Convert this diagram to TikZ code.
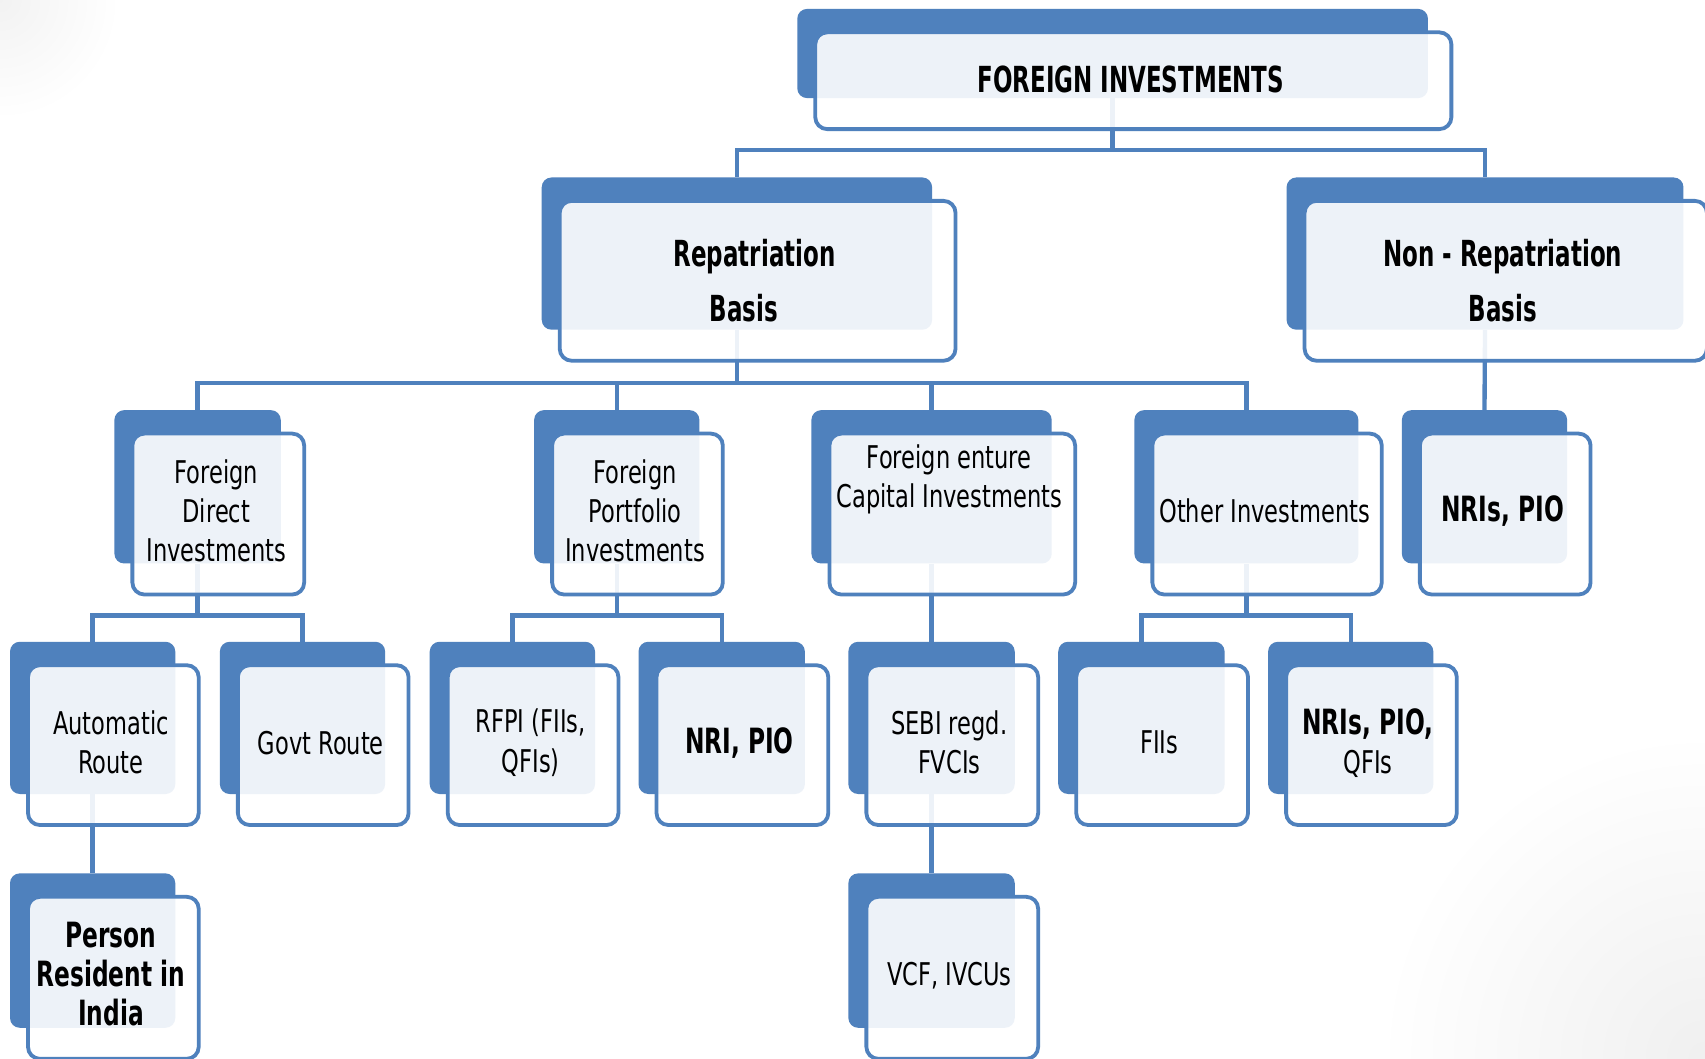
\documentclass[tikz,border=0pt]{standalone}
\usepackage{fontspec}
\newfontfamily\rf{DejaVu Sans}[FakeStretch=0.72]
\newfontfamily\bff{DejaVu Sans}[FakeStretch=0.64]
\newfontfamily\bfs{DejaVu Sans}[FakeStretch=0.67]
\usetikzlibrary{backgrounds,calc}
\definecolor{bl}{RGB}{79,129,189}
\tikzset{
  backbox/.style={draw=none, fill=bl, rounded corners=9pt, inner sep=0pt, anchor=north west},
  frontbox/.style={draw=bl, line width=3.5pt, fill=white, fill opacity=0.9, rounded corners=11pt, inner sep=0pt, anchor=north west},
  conn/.style={draw=bl, line width=4pt},
  rt/.style={align=center, inner sep=0pt, font=\rf\fontsize{28.8}{36}\selectfont},
  bt/.style={align=center, inner sep=0pt, font=\bfs\bfseries\fontsize{32}{36}\selectfont},
  bbig/.style={align=center, inner sep=0pt, font=\bff\bfseries\fontsize{33}{51}\selectfont},
}
% #1 name, #2 x1, #3 y1, #4 x2, #5 y2 of back box
\newcommand\pairbox[5]{%
  \node[backbox, minimum width={#4-#2}, minimum height={#5-#3}] (#1B) at (#2,#3) {};
  \node[frontbox, minimum width={#4-#2+5}, minimum height={#5-#3+7}] (#1) at (#2+15,#3+20) {};
}
\begin{document}
\begin{tikzpicture}[x=1pt,y=-1pt]
\useasboundingbox (0,0) rectangle (1568,973);
% boxes
\pairbox{top}{733}{8}{1313}{90}
\pairbox{rep}{498}{163}{857}{303}
\pairbox{nr}{1183}{163}{1548}{303}
\pairbox{fdi}{105}{377}{258}{518}
\pairbox{fpi}{491}{377}{643}{518}
\pairbox{fvc}{746}{377}{967}{518}
\pairbox{oth}{1043}{377}{1249}{518}
\pairbox{nrp}{1289}{377}{1441}{518}
\pairbox{auto}{9}{590}{161}{730}
\pairbox{gov}{202}{590}{354}{730}
\pairbox{rfpi}{395}{590}{547}{730}
\pairbox{nri}{587}{590}{740}{730}
\pairbox{sebi}{780}{590}{933}{730}
\pairbox{fiis}{973}{590}{1126}{730}
\pairbox{nrq}{1166}{590}{1318}{730}
\pairbox{per}{9}{803}{161}{945}
\pairbox{vcf}{780}{803}{933}{945}
% texts
\node[bbig] (topT) at (1040,73) {FOREIGN INVESTMENTS};
\node[bbig] (repT) at (694,258) {Repatriation\\Basis\hspace*{20pt}};
\node[bbig] (nrT) at (1382,258) {Non - Repatriation\\Basis};
\node[rt] (fdiT) at (199,470) {Foreign\\Direct\\Investments};
\node[rt] (fpiT) at (584,470) {Foreign\\Portfolio\\Investments};
\node[rt] (fvcT) at (873,441) {Foreign enture\\Capital Investments};
\node[rt] (othT) at (1163,470) {Other Investments};
\node[bt] (nrpT) at (1382,470) {NRIs, PIO};
\node[rt] (autoT) at (102,683) {Automatic\\Route};
\node[rt] (govT) at (295,683) {Govt Route};
\node[rt] (rfpiT) at (488,683) {RFPI (FIIs,\\QFIs)};
\node[bt] (nriT) at (680,683) {NRI, PIO};
\node[rt] (sebiT) at (873,683) {SEBI regd.\\FVCIs};
\node[rt] (fiisT) at (1066,683) {FIIs};
\node[rt] (nrqT) at (1258,683) {{\bfs\bfseries\fontsize{32}{36}\selectfont NRIs, PIO,}\\QFIs};
\node[bt] (perT) at (102,896) {Person\\Resident in\\India};
\node[rt] (vcfT) at (873,897) {VCF, IVCUs};
% connectors
\begin{scope}[on background layer]
\fill[white] (0,0) rectangle (1568,973);
\begin{scope}
\clip (0,0) rectangle (1568,973);
\shade[inner color=black!5, outer color=white] (0,0) circle (110);
\shade[inner color=black!6, outer color=white] (1568,973) circle (300);
\end{scope}
\draw[conn] (topB.south) -- (topB.south |- 0,138);
\draw[conn] (repB.north) |- (nrB.north |- 0,138) -- (nrB.north);
\draw[conn] (repB.south) -- (repB.south |- 0,352);
\draw[conn] (fdiB.north) |- (othB.north |- 0,352) -- (othB.north);
\draw[conn] (fpiB.north) -- (fpiB.north |- 0,352);
\draw[conn] (fvcB.north) -- (fvcB.north |- 0,352);
\draw[conn] (nrB.south) -- (nrpB.north);
\draw[conn] (fdiB.south) -- (fdiB.south |- 0,566);
\draw[conn] (autoB.north) |- (govB.north |- 0,566) -- (govB.north);
\draw[conn] (fpiB.south) -- (fpiB.south |- 0,566);
\draw[conn] (rfpiB.north) |- (nriB.north |- 0,566) -- (nriB.north);
\draw[conn] (fvcB.south) -- (sebiB.north);
\draw[conn] (othB.south) -- (othB.south |- 0,566);
\draw[conn] (fiisB.north) |- (nrqB.north |- 0,566) -- (nrqB.north);
\draw[conn] (autoB.south) -- (perB.north);
\draw[conn] (sebiB.south) -- (vcfB.north);
\end{scope}
\end{tikzpicture}
\end{document}
